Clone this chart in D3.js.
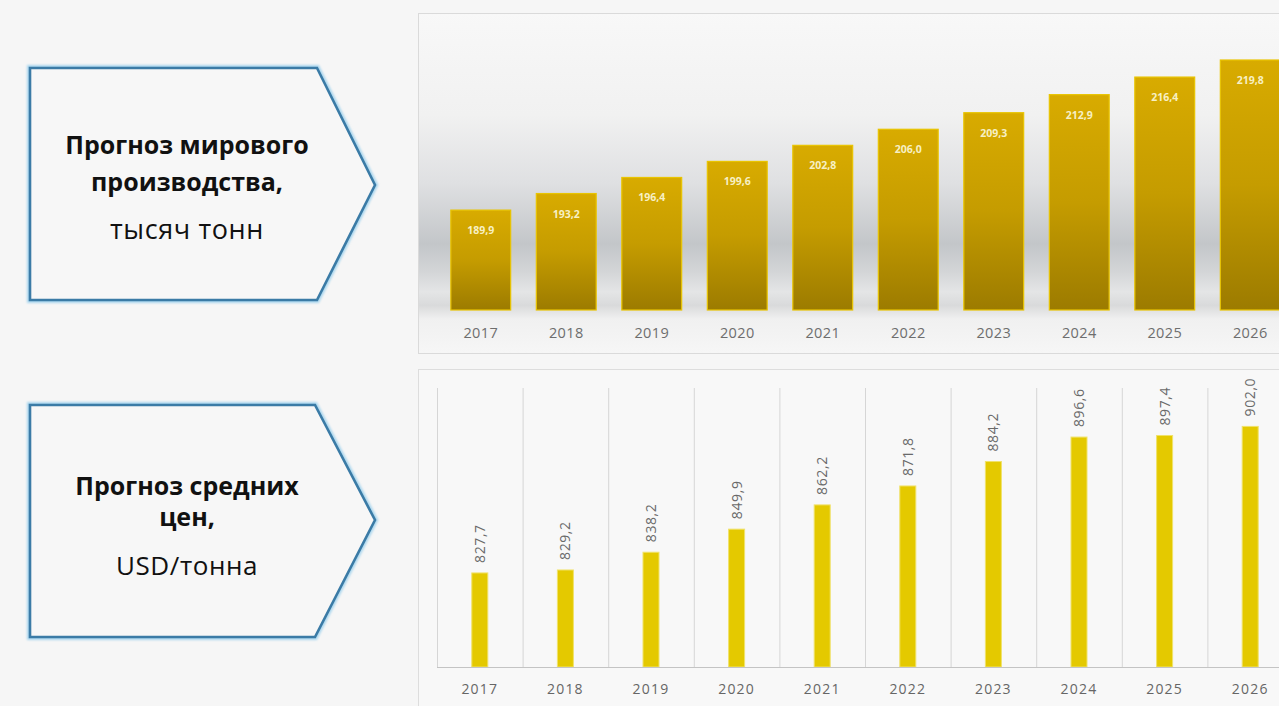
<!DOCTYPE html>
<html>
<head>
<meta charset="utf-8">
<script src="https://cdn.jsdelivr.net/npm/d3@7"></script>
<style>
  html, body { margin: 0; padding: 0; background: #f6f6f6; }
  svg { display: block; }
</style>
</head>
<body>
<svg id="chart" width="1279" height="706"></svg>
<script>
// Years shared by both panels
const years = ["2017", "2018", "2019", "2020", "2021", "2022", "2023", "2024", "2025", "2026"];
// World production forecast, thousand tonnes
const production = [189.9, 193.2, 196.4, 199.6, 202.8, 206.0, 209.3, 212.9, 216.4, 219.8];
// Average price forecast, USD per tonne
const prices = [827.7, 829.2, 838.2, 849.9, 862.2, 871.8, 884.2, 896.6, 897.4, 902.0];
// Side captions
const captionTop = [
  { text: "Прогноз мирового", bold: true },
  { text: "производства,", bold: true },
  { text: "тысяч тонн", bold: false }
];
const captionBottom = [
  { text: "Прогноз средних", bold: true },
  { text: "цен,", bold: true },
  { text: "USD/тонна", bold: false }
];

const fmt = v => d3.format(".1f")(v).replace(".", ",");
const FONT = "'Open Sans', 'Noto Sans', sans-serif";

const svg = d3.select("#chart");
const defs = svg.append("defs");

// Background of the production panel: soft grey band behind the bars
const bgGrad = defs.append("linearGradient")
  .attr("id", "panelShade").attr("gradientUnits", "userSpaceOnUse")
  .attr("x1", 0).attr("y1", 13).attr("x2", 0).attr("y2", 353);
[[0, "#f8f8f8"], [0.30, "#f1f1f1"], [0.50, "#dfe0e2"], [0.68, "#c3c6c9"],
 [0.76, "#d3d5d7"], [0.82, "#e4e5e6"], [0.86, "#d9dadb"], [0.9, "#f0f0f0"], [1, "#f6f6f6"]]
  .forEach(([o, c]) => bgGrad.append("stop").attr("offset", o).attr("stop-color", c));

// Gold bar gradient
const barGrad = defs.append("linearGradient")
  .attr("id", "goldBar").attr("x1", 0).attr("y1", 0).attr("x2", 0).attr("y2", 1);
[[0, "#d8ab00"], [0.5, "#c59c00"], [1, "#9c7b00"]]
  .forEach(([o, c]) => barGrad.append("stop").attr("offset", o).attr("stop-color", c));

// Glow under the caption arrows
const glow = defs.append("filter").attr("id", "glow")
  .attr("x", "-10%").attr("y", "-10%").attr("width", "120%").attr("height", "120%");
glow.append("feGaussianBlur").attr("stdDeviation", 1.2);

// ---------- caption arrows ----------
function arrow(pts, lines, baselines, cx, regularSize) {
  const g = svg.append("g");
  const line = d3.line();
  g.append("path").attr("d", line(pts) + "Z")
    .attr("fill", "none").attr("stroke", "#a9d6ee").attr("stroke-width", 6)
    .attr("stroke-linejoin", "miter").attr("filter", "url(#glow)");
  g.append("path").attr("d", line(pts) + "Z")
    .attr("fill", "#f7f7f7").attr("stroke", "#3b7ba6").attr("stroke-width", 2.6)
    .attr("stroke-linejoin", "miter");
  g.selectAll("text").data(lines).join("text")
    .attr("x", cx).attr("y", (d, i) => baselines[i])
    .attr("text-anchor", "middle")
    .attr("font-family", FONT)
    .attr("font-weight", d => d.bold ? 700 : 400)
    .attr("font-size", d => d.bold ? 25 : regularSize)
    .attr("letter-spacing", d => d.bold ? 0 : 0.6)
    .attr("fill", "#111")
    .text(d => d.text);
}
arrow([[30, 68], [317, 68], [375, 185], [317, 300], [30, 300]], captionTop, [154, 191, 239], 187, 27);
arrow([[30, 405], [315, 405], [375, 520], [315, 637], [30, 637]], captionBottom, [495, 526, 575], 187, 26);

// ---------- production panel ----------
svg.append("rect").attr("x", 418.5).attr("y", 13.5).attr("width", 880).attr("height", 340)
  .attr("fill", "url(#panelShade)").attr("stroke", "#dadada");

const x1 = d3.scaleBand().domain(years).range([438, 1293]).paddingInner(0.3).paddingOuter(0.15);
const y1 = d3.scaleLinear().domain([170, 225]).range([310, 310 - 55 * 5.02]);

const prodG = svg.append("g");
prodG.selectAll("rect.bar").data(years).join("rect").attr("class", "bar")
  .attr("x", d => x1(d)).attr("width", x1.bandwidth())
  .attr("y", (d, i) => y1(production[i]))
  .attr("height", (d, i) => y1(170) - y1(production[i]))
  .attr("fill", "url(#goldBar)").attr("stroke", "#e9c400").attr("stroke-width", 1.2);
prodG.selectAll("text.val").data(years).join("text").attr("class", "val")
  .attr("x", d => x1(d) + x1.bandwidth() / 2)
  .attr("y", (d, i) => y1(production[i]) + 24)
  .attr("text-anchor", "middle").attr("font-family", FONT)
  .attr("font-weight", 700).attr("font-size", 10.5).attr("fill", "#f7f0c4")
  .text((d, i) => fmt(production[i]));

const ax1 = svg.append("g").attr("transform", "translate(0,310)")
  .call(d3.axisBottom(x1).tickSize(0).tickPadding(18));
ax1.select(".domain").remove();
ax1.selectAll("text").attr("font-family", FONT).attr("font-size", 14.5)
  .attr("letter-spacing", 0.4).attr("fill", "#6e6e6e");

// ---------- price panel ----------
svg.append("rect").attr("x", 418.5).attr("y", 369.5).attr("width", 880).attr("height", 350)
  .attr("fill", "#f8f8f8").attr("stroke", "#dddddd");

const x2 = d3.scaleBand().domain(years).range([437, 1293]).paddingInner(0.813).paddingOuter(0.4065);
const y2 = d3.scaleLinear().domain([780, 920]).range([667, 667 - 140 * 1.972]);

const priceG = svg.append("g");
priceG.selectAll("line.grid").data(years).join("line").attr("class", "grid")
  .attr("x1", (d, i) => x2.range()[0] + i * x2.step() + 0.5)
  .attr("x2", (d, i) => x2.range()[0] + i * x2.step() + 0.5)
  .attr("y1", 388).attr("y2", 667)
  .attr("stroke", "#d6d6d6").attr("stroke-width", 1);

priceG.selectAll("rect.bar").data(years).join("rect").attr("class", "bar")
  .attr("x", d => x2(d)).attr("width", x2.bandwidth())
  .attr("y", (d, i) => y2(prices[i]))
  .attr("height", (d, i) => y2(780) - y2(prices[i]))
  .attr("fill", "#e4c900").attr("stroke", "#f0e26a").attr("stroke-width", 1);

priceG.selectAll("text.val").data(years).join("text").attr("class", "val")
  .attr("transform", (d, i) => `translate(${x2(d) + x2.bandwidth() / 2 + 5},${y2(prices[i]) - 10}) rotate(-90)`)
  .attr("font-family", FONT).attr("font-size", 14).attr("letter-spacing", 0.6)
  .attr("fill", "#6a6a6a")
  .text((d, i) => fmt(prices[i]));

const ax2 = svg.append("g").attr("transform", "translate(0,667)")
  .call(d3.axisBottom(x2).tickSize(0).tickPadding(17));
ax2.select(".domain").attr("stroke", "#c4c4c4").attr("d", "M437,0.5H1293");
ax2.selectAll("text").attr("font-family", FONT).attr("font-size", 14)
  .attr("letter-spacing", 1.2).attr("fill", "#666");
</script>
</body>
</html>
